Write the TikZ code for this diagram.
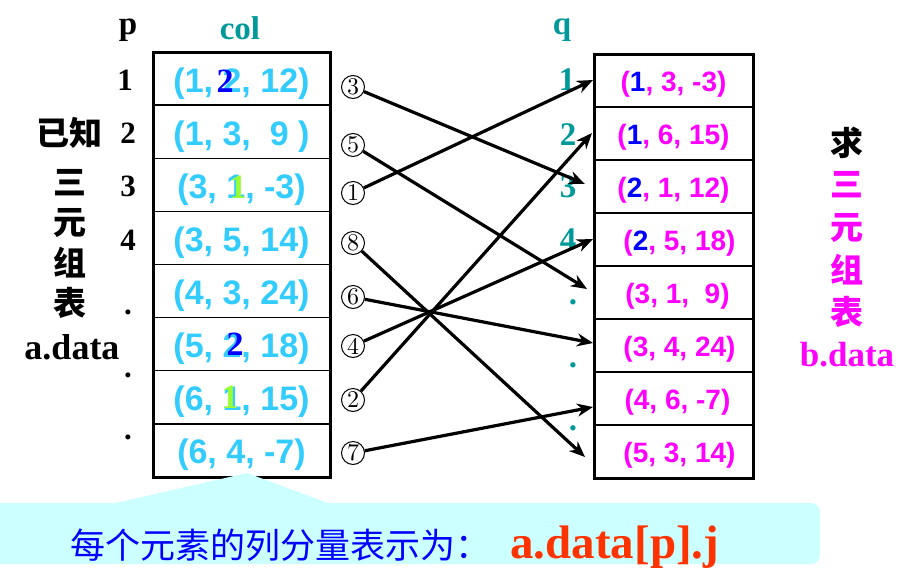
\documentclass[tikz,border=0pt]{standalone}
\usepackage{fontspec}
\setmainfont{Liberation Serif}
\setsansfont{Liberation Sans}
\newfontfamily\cjk{Noto Sans CJK SC}
\newfontfamily\ringfont{lmroman10-regular.otf}
\usepackage{tikz}
\usetikzlibrary{arrows.meta, positioning, calc}
\definecolor{tupleblue}{HTML}{33CCFF}
\definecolor{tealink}{HTML}{009999}
\definecolor{pinkink}{HTML}{FF00FF}
\definecolor{keyblue}{HTML}{0000FF}
\definecolor{keygreen}{HTML}{99FF33}
\definecolor{calloutbg}{HTML}{CCFFFF}
\definecolor{codered}{HTML}{FF3300}
\tikzset{
  acell/.style={draw=black, line width=1.3pt, minimum width=177pt, minimum height=53.125pt, inner sep=0pt, outer sep=0pt,
    text height=33pt, text depth=6pt, font=\sffamily\bfseries\fontsize{34}{34}\selectfont, text=tupleblue},
  bcell/.style={draw=black, line width=1.3pt, minimum width=159pt, minimum height=53pt, inner sep=0pt, outer sep=0pt,
    text height=26pt, text depth=4pt, font=\sffamily\bfseries\fontsize{28}{28}\selectfont, text=pinkink},
  frame/.style={draw=black, line width=3pt},
  idx/.style={font=\rmfamily\bfseries\fontsize{31}{31}\selectfont, text=black, inner sep=0pt},
  qidx/.style={idx, text=tealink, font=\rmfamily\bfseries\fontsize{33}{33}\selectfont},
  head/.style={font=\rmfamily\bfseries\fontsize{33}{33}\selectfont, inner sep=0pt},
  ring/.style={circle, draw=black, line width=1pt, minimum size=23pt, inner sep=0pt,
    font=\ringfont\fontsize{24}{24}\selectfont},
  bluekey/.style={font=\rmfamily\bfseries\fontsize{34}{34}\selectfont, text=keyblue, inner sep=0pt},
  greenkey/.style={bluekey, text=keygreen},
  hanzi/.style={font=\cjk\bfseries\fontsize{33}{33}\selectfont, inner sep=0pt},
  link/.style={-{Stealth[length=16pt, width=13pt]}, draw=black, line width=3.2pt}
}

\begin{document}
\begin{tikzpicture}[x=1pt, y=-1pt]
\useasboundingbox (0,0) rectangle (907,576);

% left table a.data
\node[acell, anchor=north west] (a1) at (153,52) {(1, 2, 12)};
\node[acell, below=0pt of a1] (a2) {(1, 3, \ 9 )};
\node[acell, below=0pt of a2] (a3) {(3, 1, -3)};
\node[acell, below=0pt of a3] (a4) {(3, 5, 14)};
\node[acell, below=0pt of a4] (a5) {(4, 3, 24)};
\node[acell, below=0pt of a5] (a6) {(5, 2, 18)};
\node[acell, below=0pt of a6] (a7) {(6, 1, 15)};
\node[acell, below=0pt of a7] (a8) {(6, 4, -7)};
\draw[frame] (a1.north west) rectangle (a8.south east);
\node[bluekey] (k1) at (225,81) {2};
\node[greenkey] (k3) at (238,187) {1};
\node[bluekey] (k6) at (235,344) {2};
\node[greenkey] (k7) at (230,397) {1};

% right table b.data
\node[bcell, anchor=north west] (b1) at (594,54) {(\textcolor{keyblue}{1}, 3, -3)};
\node[bcell, below=0pt of b1] (b2) {(\textcolor{keyblue}{1}, 6, 15)};
\node[bcell, below=0pt of b2] (b3) {(\textcolor{keyblue}{2}, 1, 12)};
\node[bcell, below=0pt of b3] (b4) {\hspace{12pt}(\textcolor{keyblue}{2}, 5, 18)};
\node[bcell, below=0pt of b4] (b5) {\hspace{8pt}(3, 1, \ 9)};
\node[bcell, below=0pt of b5] (b6) {\hspace{12pt}(3, 4, 24)};
\node[bcell, below=0pt of b6] (b7) {\hspace{8pt}(4, 6, -7)};
\node[bcell, below=0pt of b7] (b8) {\hspace{12pt}(5, 3, 14)};
\draw[frame] (b1.north west) rectangle (b8.south east);

% headings and indices
\node[head] (phead) at (128,30) {p};
\node[head, text=tealink] (colhead) at (240,28) {col};
\node[head, text=tealink] (qhead) at (562,30) {q};
\node[idx] (p1) at (125,80) {1};
\node[idx] (p2) at (128,133) {2};
\node[idx] (p3) at (128,186) {3};
\node[idx] (p4) at (128,240) {4};
\node[idx] (p5) at (128,312) {.};
\node[idx] (p6) at (128,375) {.};
\node[idx] (p7) at (128,437) {.};
\node[qidx] (q1) at (567,80) {1};
\node[qidx] (q2) at (568,135) {2};
\node[qidx] (q3) at (568,187) {3};
\node[qidx] (q4) at (568,240) {4};
\node[qidx] (q5) at (573,302) {.};
\node[qidx] (q6) at (573,365) {.};
\node[qidx] (q7) at (573,428) {.};

% side labels
\node[hanzi] (known) at (69,133) {已知};
\node[hanzi] (lsan) at (70,183) {三};
\node[hanzi] (lyuan) at (70,223) {元};
\node[hanzi] (lzu) at (70,263) {组};
\node[hanzi] (lbiao) at (70,303) {表};
\node[head, font=\rmfamily\bfseries\fontsize{36}{36}\selectfont] (adata) at (72,347) {a.data};
\node[hanzi] (want) at (847,143) {求};
\node[hanzi, text=pinkink] (rsan) at (847,185) {三};
\node[hanzi, text=pinkink] (ryuan) at (847,228) {元};
\node[hanzi, text=pinkink] (rzu) at (847,270) {组};
\node[hanzi, text=pinkink] (rbiao) at (847,312) {表};
\node[head, text=pinkink, font=\rmfamily\bfseries\fontsize{35}{35}\selectfont] (bdata) at (847,355) {b.data};

% visiting order
\node[ring] (r3) at (353,87) {3};
\node[ring] (r5) at (353,145) {5};
\node[ring] (r1) at (353,193) {1};
\node[ring] (r8) at (353,243) {8};
\node[ring] (r6) at (353,297) {6};
\node[ring] (r4) at (353,346) {4};
\node[ring] (r2) at (353,400) {2};
\node[ring] (r7) at (353,453) {7};
\coordinate (in1) at (593,80);
\coordinate (in2) at (592,133);
\coordinate (in3) at (585,184);
\coordinate (in4) at (593,239);
\coordinate (in5) at (587,289);
\coordinate (in6) at (593,343);
\coordinate (in7) at (593,407);
\coordinate (in8) at (585,457);
\draw[link] (r1)--(in1); \draw[link] (r2)--(in2); \draw[link] (r3)--(in3); \draw[link] (r4)--(in4);
\draw[link] (r5)--(in5); \draw[link] (r6)--(in6); \draw[link] (r7)--(in7); \draw[link] (r8)--(in8);

% callout
\fill[calloutbg] (0,503) -- (116,503) -- (247,473) -- (328,503) -- (700,503) [rounded corners=9pt] -- (820,503)
  -- (820,564) -- (700,564) [sharp corners] -- (0,564) -- cycle;
\node[font=\cjk\fontsize{35}{35}\selectfont, text=keyblue, inner sep=0pt] (note) at (280,545) {每个元素的列分量表示为：};
\node[font=\rmfamily\bfseries\fontsize{47}{47}\selectfont, text=codered, inner sep=0pt,
  right=20pt of note.base east, anchor=base west] (code) {a.data[p].j};
\end{tikzpicture}
\end{document}
